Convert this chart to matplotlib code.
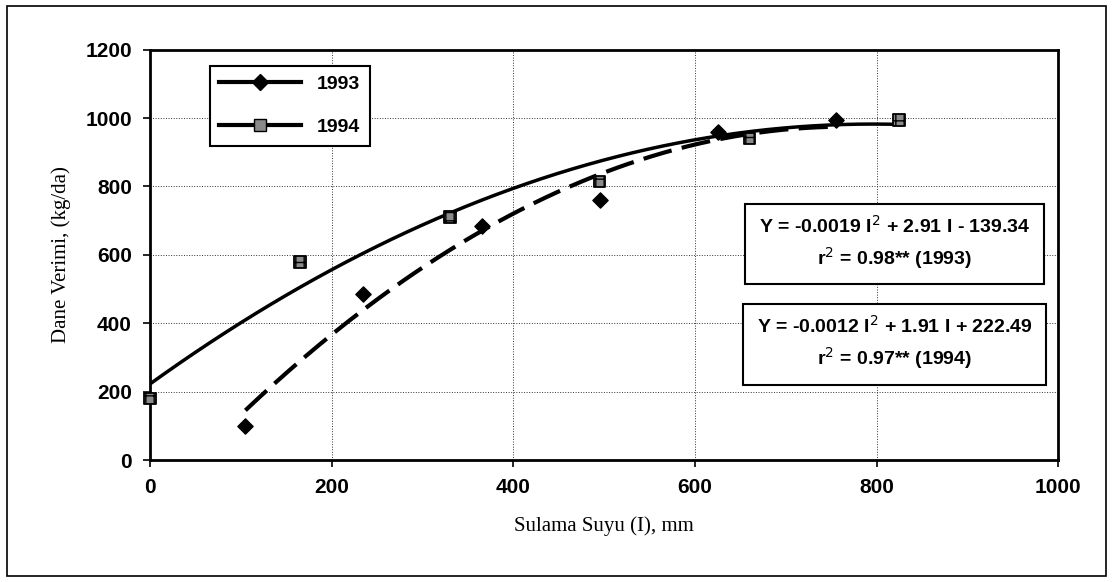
import numpy as np
import matplotlib.pyplot as plt
from matplotlib.lines import Line2D
from matplotlib.patches import Rectangle

### Data
x_1993 = [105, 235, 365, 495, 625, 755]
y_1993 = [100, 485, 685, 760, 960, 995]
x_1994 = [0, 165, 330, 495, 660, 825]
y_1994 = [180, 580, 710, 815, 940, 995]

### Trendline coefficients shown on the chart
coef_1993 = [-0.0019, 2.91, -139.34]
coef_1994 = [-0.0012, 1.91, 222.49]

eq_1993 = "Y = -0.0019 I$^2$ + 2.91 I - 139.34\nr$^2$ = 0.98** (1993)"
eq_1994 = "Y = -0.0012 I$^2$ + 1.91 I + 222.49\nr$^2$ = 0.97** (1994)"

fig = plt.figure(figsize=(11.13, 5.82), dpi=100)
ax = fig.add_axes([0.1348, 0.2096, 0.816, 0.705])

# outer frame around the whole figure
fig.patches.append(Rectangle((0.006, 0.01), 0.988, 0.98, transform=fig.transFigure,
                             fill=False, edgecolor='black', linewidth=1.2))

### trendlines
xt = np.linspace(min(x_1993), max(x_1993), 200)
ax.plot(xt, np.polyval(coef_1993, xt), color='black', linewidth=3, dashes=(7, 2.5), zorder=3)
xt2 = np.linspace(min(x_1994), max(x_1994), 200)
ax.plot(xt2, np.polyval(coef_1994, xt2), color='black', linewidth=2.5, zorder=3)

### points
ax.scatter(x_1993, y_1993, marker='D', s=60, color='black', zorder=4)
ax.scatter(x_1994, y_1994, marker='s', s=70, facecolor='#8a8a8a', edgecolor='black',
           linewidths=1.3, hatch='++', zorder=4, clip_on=False)

ax.set_xlim(0, 1000)
ax.set_ylim(0, 1200)
ax.set_xticks(range(0, 1001, 200))
ax.set_yticks(range(0, 1201, 200))
ax.grid(True, linestyle=':', color='#333333', linewidth=0.7)
ax.set_axisbelow(True)
for sp in ax.spines.values():
    sp.set_linewidth(2)
ax.tick_params(axis='both', length=5, width=1.2, labelsize=15, pad=8)
for lab in ax.get_xticklabels() + ax.get_yticklabels():
    lab.set_fontweight('bold')
    lab.set_family('Liberation Sans')

ax.set_xlabel("Sulama Suyu (I), mm", family='Liberation Serif', fontsize=15, labelpad=14)
ax.set_ylabel("Dane Verimi, (kg/da)", family='Liberation Serif', fontsize=15, labelpad=10)

### legend
h1 = Line2D([], [], color='black', linewidth=3, marker='D', markersize=8)
h2 = Line2D([], [], color='black', linewidth=3, marker='s', markersize=8,
            markerfacecolor='#8a8a8a', markeredgecolor='black')
leg = ax.legend([h1, h2], ['1993', '1994'], loc='upper left', bbox_to_anchor=(0.055, 0.985),
                fancybox=False, edgecolor='black', framealpha=1, handlelength=4.2,
                labelspacing=1.3, borderpad=0.5,
                prop={'family': 'Liberation Sans', 'weight': 'bold', 'size': 14})
leg.get_frame().set_linewidth(1.5)

### equation boxes
box = dict(boxstyle='square,pad=0.7', facecolor='white', edgecolor='black', linewidth=1.5)
ax.text(0.82, 0.529, eq_1993, transform=ax.transAxes, ha='center', va='center',
        fontsize=14, fontweight='bold', family='Liberation Sans', bbox=box, linespacing=1.4)
ax.text(0.82, 0.285, eq_1994, transform=ax.transAxes, ha='center', va='center',
        fontsize=14, fontweight='bold', family='Liberation Sans', bbox=box, linespacing=1.4)

plt.savefig("out.png", dpi=100)
